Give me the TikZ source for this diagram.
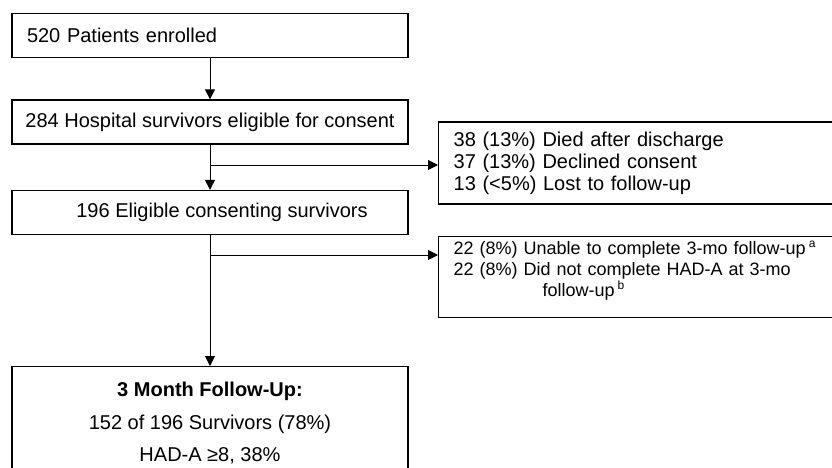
\documentclass[tikz,border=0pt]{standalone}
\usepackage{fontspec}
\setmainfont{Liberation Sans}
\usepackage{tikz}
\usetikzlibrary{arrows.meta, positioning, calc}

\begin{document}
\begin{tikzpicture}[
    x=0.5pt, y=-0.5pt,
    bx/.style={draw, line width=0.65pt, minimum width=198pt, minimum height=22pt, font=\fontsize{10}{11}\selectfont},
    sd/.style={draw, line width=0.65pt, anchor=west, text width=191pt, inner xsep=7.5pt, align=left, font=\fontsize{10}{11}\selectfont},
    ar/.style={-{Triangle[length=5pt, width=5pt]}, line width=0.5pt}
  ]
    \useasboundingbox (0,0) rectangle (832,467);
    \clip (0,0) rectangle (832,467);
    % ---- main column ----
    \node[bx, text width=183pt, inner xsep=7.5pt, align=left] (enr) at (210,35.5) {520 Patients enrolled};
    \node[bx] (hos) at (210,122) {284 Hospital survivors eligible for consent};
    \node[bx] (con) at (210,212.5) {\hspace*{12pt}196 Eligible consenting survivors};
    \node[bx, anchor=north, align=center, inner ysep=7.7pt, font=\fontsize{10}{16.3}\selectfont] (fu) at (210,366)
      {\textbf{3 Month Follow-Up:}\\152 of 196 Survivors (78\%)\\HAD-A ≥8, 38\%};
    \draw[ar] (enr) -- (hos);
    \draw[ar] (hos) -- (con);
    \draw[ar] (con) -- (fu);
    % ---- exclusions ----
    \node[sd, minimum height=41pt] (ex1) at (438,163)
      {38 (13\%) Died after discharge\\37 (13\%) Declined consent\\13 (<5\%) Lost to follow-up};
    \node[sd, anchor=north west, inner ysep=2pt, font=\fontsize{9}{10.5}\selectfont] (ex2) at (438,236)
      {22 (8\%) Unable to complete 3-mo follow-up\,\textsuperscript{a}\\
       22 (8\%) Did not complete HAD-A at 3-mo\\
       \hspace*{44.5pt}follow-up\,\textsuperscript{b}\rule[-8.5pt]{0pt}{1pt}};
    \coordinate (j1) at (210,165);
    \coordinate (j2) at (210,255);
    \draw[ar] (j1) -- (j1 -| ex1.west);
    \draw[ar] (j2) -- (j2 -| ex2.west);
  \end{tikzpicture}
\end{document}
